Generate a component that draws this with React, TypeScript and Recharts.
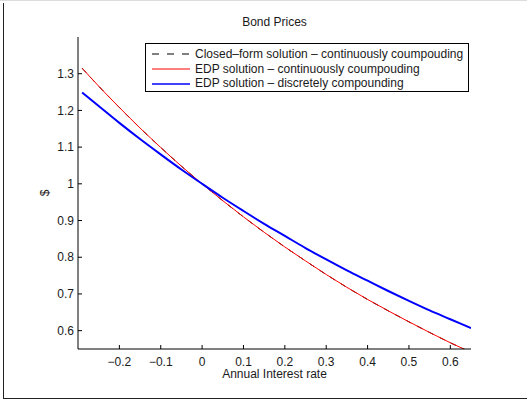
import React from 'react';
import { LineChart, Line, XAxis, YAxis, Label } from 'recharts';

// Values (annual rate -> bond price)
const rates = [-0.29, -0.25, -0.2, -0.15, -0.1, -0.05, 0, 0.05, 0.1, 0.15, 0.2, 0.25, 0.3, 0.35, 0.4, 0.45, 0.5, 0.55, 0.6, 0.65];
const closedForm = [1.315, 1.266, 1.208, 1.152, 1.099, 1.048, 1.0, 0.954, 0.91, 0.868, 0.828, 0.79, 0.753, 0.718, 0.685, 0.654, 0.624, 0.595, 0.567, 0.541];
const edpContinuous = [1.315, 1.266, 1.208, 1.152, 1.099, 1.048, 1.0, 0.954, 0.91, 0.868, 0.828, 0.79, 0.753, 0.718, 0.685, 0.654, 0.624, 0.595, 0.567, 0.541];
const edpDiscrete = [1.249, 1.212, 1.166, 1.122, 1.08, 1.039, 1.0, 0.962, 0.926, 0.891, 0.858, 0.825, 0.794, 0.764, 0.736, 0.708, 0.681, 0.655, 0.631, 0.607];

const xTicks = [-0.2, -0.1, 0, 0.1, 0.2, 0.3, 0.4, 0.5, 0.6];
const yTicks = [0.6, 0.7, 0.8, 0.9, 1, 1.1, 1.2, 1.3];

const seriesNames = [
  'Closed\u2013form solution \u2013 continuously coumpouding',
  'EDP solution \u2013 continuously coumpouding',
  'EDP solution \u2013 discretely compounding',
];

const data = rates.map((r, i) => ({
  r,
  closed: closedForm[i],
  cont: edpContinuous[i],
  disc: edpDiscrete[i],
}));

const FONT = '"Liberation Sans", Arial, Helvetica, sans-serif';
const INK = '#1a1a1a';

const fmt = (v: number) => (v < 0 ? '\u2212' + String(Math.abs(v)) : String(v));

// MATLAB-style boxed legend, laid over the axes
function LegendBox() {
  const rows = [
    { name: seriesNames[0], color: '#000', dash: '7 8', w: 1 },
    { name: seriesNames[1], color: '#ff0000', dash: undefined, w: 1 },
    { name: seriesNames[2], color: '#0000ff', dash: undefined, w: 1.6 },
  ];
  return (
    <div
      style={{
        position: 'absolute',
        left: 145,
        top: 43,
        width: 324,
        height: 49,
        border: '1px solid #000',
        background: '#fff',
        padding: '3px 3px 3px 6px',
        fontFamily: FONT,
        fontSize: 12,
        color: INK,
        lineHeight: '14.7px',
        boxSizing: 'border-box',
      }}
    >
      {rows.map((r) => (
        <div key={r.name} style={{ display: 'flex', alignItems: 'center', whiteSpace: 'nowrap' }}>
          <svg width={38} height={10} style={{ marginRight: 5 }}>
            <line x1={0} x2={38} y1={5} y2={5} stroke={r.color} strokeWidth={r.w} strokeDasharray={r.dash} />
          </svg>
          <span>{r.name}</span>
        </div>
      ))}
    </div>
  );
}

export default function App() {
  return (
    <div style={{ position: 'absolute', left: 0, top: 0, width: 527, height: 403, background: '#fff' }}>
      {/* figure frame */}
      <div style={{ position: 'absolute', left: 0, top: 0, width: 527, height: 1, background: '#dcdcdc' }} />
      <div
        style={{
          position: 'absolute',
          left: 3,
          top: 3,
          width: 524,
          height: 396,
          borderLeft: '1.5px solid #222',
          borderBottom: '1.5px solid #222',
          boxSizing: 'border-box',
        }}
      />
      <div
        style={{
          position: 'absolute',
          left: 78,
          width: 393,
          top: 15,
          textAlign: 'center',
          fontFamily: FONT,
          fontSize: 12,
          color: INK,
        }}
      >
        Bond Prices
      </div>
      <div style={{ position: 'absolute', left: 0, top: 0 }}>
        <LineChart width={527} height={403} data={data} margin={{ top: 37, right: 56, bottom: 24, left: 38 }}>
          <XAxis
            dataKey="r"
            type="number"
            domain={[-0.3, 0.65]}
            allowDataOverflow
            ticks={xTicks}
            tickFormatter={fmt}
            height={30}
            tickSize={-4}
            tickMargin={12}
            axisLine={{ stroke: '#000', strokeWidth: 1 }}
            tickLine={{ stroke: '#000' }}
            tick={{ fill: INK, fontSize: 12, fontFamily: FONT }}
          >
            <Label value="Annual Interest rate" position="insideBottom" offset={1} fill={INK} fontSize={12} fontFamily={FONT} />
          </XAxis>
          <YAxis
            type="number"
            domain={[0.55, 1.4]}
            allowDataOverflow
            ticks={yTicks}
            tickFormatter={(v: number) => String(v)}
            width={40}
            tickSize={-4}
            tickMargin={8}
            axisLine={{ stroke: '#000', strokeWidth: 1 }}
            tickLine={{ stroke: '#000' }}
            tick={{ fill: INK, fontSize: 12, fontFamily: FONT }}
          >
            <Label
              content={({ viewBox }: any) => {
                const cy = viewBox.y + viewBox.height / 2;
                return (
                  <text
                    x={45}
                    y={cy}
                    transform={`rotate(-90 45 ${cy})`}
                    textAnchor="middle"
                    dominantBaseline="central"
                    fill={INK}
                    fontSize={12}
                    fontFamily={FONT}
                  >
                    $
                  </text>
                );
              }}
            />
          </YAxis>
          <Line
            dataKey="closed"
            name={seriesNames[0]}
            stroke="#000"
            strokeWidth={1}
            strokeDasharray="6 6.5"
            dot={false}
            activeDot={false}
            type="monotone"
            isAnimationActive={false}
          />
          <Line
            dataKey="cont"
            name={seriesNames[1]}
            stroke="#ff0000"
            strokeWidth={1}
            dot={false}
            activeDot={false}
            type="monotone"
            isAnimationActive={false}
          />
          <Line
            dataKey="disc"
            name={seriesNames[2]}
            stroke="#0000ff"
            strokeWidth={2}
            dot={false}
            activeDot={false}
            type="monotone"
            isAnimationActive={false}
          />
        </LineChart>
      </div>
      <LegendBox />
    </div>
  );
}
